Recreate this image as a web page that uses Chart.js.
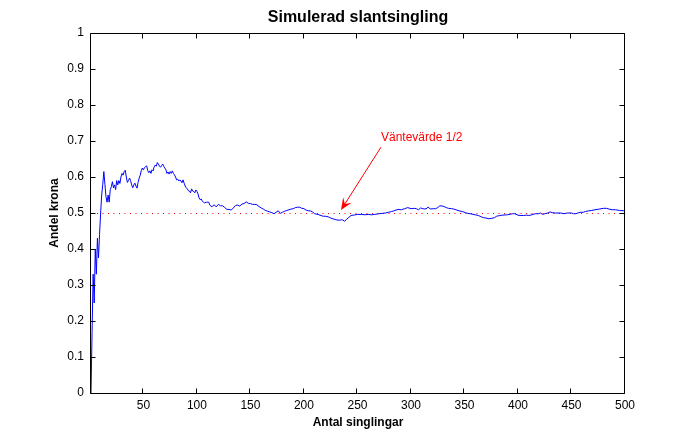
<!DOCTYPE html>
<html>
<head>
<meta charset="utf-8">
<script src="https://cdn.jsdelivr.net/npm/chart.js@4.4.1/dist/chart.umd.min.js"></script>
<style>
html,body{margin:0;padding:0;background:#fff;}
#wrap{width:691px;height:442px;position:relative;}
</style>
</head>
<body>
<div id="wrap"><canvas id="c" width="691" height="442"></canvas></div>
<script>
// ---- Data ----
const tosses = [1,2,3,4,5,6,7,8,9,10,11,12,13,14,15,16,17,18,19,20,21,22,23,24,25,26,27,28,29,30,
31,32,33,34,35,36,37,38,39,40,41,42,43,44,45,46,47,48,49,50,51,52,53,54,55,56,57,58,59,60,
61,62,63,64,65,66,67,68,69,70,71,72,73,74,75,76,77,78,79,80,81,82,83,84,85,86,87,88,89,90,
91,92,93,94,95,96,97,98,99,100,101,102,103,104,105,106,107,109,111,112,114,116,118,120,122,124,126,128,130,
132,134,136,138,140,142,144,146,148,150,152,154,156,158,160,162,164,166,168,170,172,174,176,178,180,
182,184,186,188,190,192,194,196,198,200,202,204,206,208,210,213,215,218,220,223,225,228,230,233,235,236,238,
240,242,244,246,250,254,257,260,263,266,270,273,276,279,282,285,288,291,294,297,299,301,303,305,307,309,
311,313,315,316,318,321,323,325,327,330,333,335,338,340,343,345,348,351,353,357,360,363,366,368,370,373,
375,378,380,383,385,390,395,397,400,402,405,408,410,413,416,419,421,423,425,428,430,432,435,440,443,446,
450,452,454,456,458,461,463,466,469,472,476,480,483,485,488,491,495,500];
const shareHeads = [0,0.17,0.33,0.25,0.40,0.33,0.43,0.375,0.44,0.50,0.55,0.58,0.615,0.58,0.545,0.53,0.55,0.53,0.565,0.573,
0.587,0.57,0.578,0.565,0.59,0.578,0.59,0.582,0.60,0.61,0.605,0.615,0.619,0.60,0.585,0.59,0.597,0.59,0.578,0.57,
0.578,0.583,0.575,0.569,0.585,0.597,0.605,0.618,0.625,0.62,0.626,0.629,0.631,0.618,0.612,0.617,0.61,0.62,0.617,0.628,
0.633,0.63,0.64,0.636,0.63,0.627,0.632,0.636,0.629,0.625,0.62,0.61,0.614,0.608,0.615,0.61,0.617,0.61,0.606,0.60,
0.592,0.594,0.589,0.592,0.589,0.584,0.592,0.583,0.575,0.57,0.567,0.562,0.561,0.556,0.567,0.561,0.56,0.556,0.564,0.56,
0.553,0.542,0.537,0.539,0.533,0.53,0.528,0.53,0.53,0.522,0.517,0.523,0.517,0.524,0.52,0.52,0.515,0.51,0.51,
0.508,0.514,0.521,0.522,0.519,0.525,0.526,0.531,0.527,0.526,0.524,0.524,0.523,0.518,0.514,0.511,0.507,0.505,0.503,0.501,0.498,0.502,0.506,0.499,0.502,
0.505,0.507,0.509,0.511,0.512,0.515,0.516,0.516,0.513,0.512,0.508,0.506,0.506,0.503,0.498,0.496,0.494,0.491,0.491,0.489,0.486,0.483,0.481,0.48,0.481,0.481,0.477,
0.483,0.488,0.493,0.494,0.496,0.496,0.495,0.496,0.495,0.496,0.498,0.499,0.5,0.502,0.504,0.507,0.51,0.509,0.512,0.515,0.513,0.512,0.513,0.512,0.509,0.514,
0.512,0.511,0.513,0.517,0.511,0.512,0.512,0.515,0.52,0.519,0.515,0.513,0.512,0.511,0.508,0.506,0.504,0.501,0.499,0.497,0.495,0.493,0.489,0.487,0.486,0.484,
0.485,0.487,0.491,0.493,0.494,0.495,0.498,0.498,0.494,0.493,0.493,0.494,0.493,0.495,0.498,0.498,0.5,0.496,0.498,0.5,0.503,0.501,0.5,0.5,0.498,0.5,
0.5,0.498,0.498,0.5,0.502,0.502,0.504,0.506,0.507,0.509,0.511,0.513,0.513,0.511,0.509,0.509,0.507,0.506];
const expectedX = [1, 500];
const expectedValue = [0.5, 0.5];
const xTickValues = [50,100,150,200,250,300,350,400,450,500];
const yTickValues = [0,0.1,0.2,0.3,0.4,0.5,0.6,0.7,0.8,0.9,1];
const titleText = 'Simulerad slantsingling';
const xTitle = 'Antal singlingar';
const yTitle = 'Andel krona';
const noteText = 'Väntevärde 1/2';

// ---- Layout / style (not data) ----
const FONT = '"Liberation Sans", Arial, Helvetica, sans-serif';
const notePos = { textX: 272, textY: 0.708, tailX: 272, tailY: 0.683, tipX: 234.6, tipY: 0.508 };

const crispPlugin = {
  id: 'crisp',
  beforeDatasetDraw(chart, args) {
    chart.ctx.save();
    if (args.index === 1) chart.ctx.translate(0.5, 0.5);
  },
  afterDatasetDraw(chart) { chart.ctx.restore(); }
};

const framePlugin = {
  id: 'frame',
  afterDatasetsDraw(chart) {
    const {ctx, chartArea: {left, right, top, bottom}, scales: {x, y}} = chart;
    ctx.save();
    ctx.strokeStyle = '#000';
    ctx.lineWidth = 1;
    ctx.beginPath();
    ctx.rect(left - 0.5, top + 0.5, right - left, bottom - top);
    ctx.stroke();
    const tl = 5;
    ctx.beginPath();
    xTickValues.forEach(v => {
      const px = Math.round(x.getPixelForValue(v)) - 0.5;
      ctx.moveTo(px, bottom + 0.5); ctx.lineTo(px, bottom + 0.5 - tl);
      ctx.moveTo(px, top + 0.5); ctx.lineTo(px, top + 0.5 + tl);
    });
    yTickValues.forEach(v => {
      const py = Math.round(y.getPixelForValue(v)) + 0.5;
      ctx.moveTo(left - 0.5, py); ctx.lineTo(left - 0.5 + tl, py);
      ctx.moveTo(right - 0.5, py); ctx.lineTo(right - 0.5 - tl, py);
    });
    ctx.stroke();

    // annotation
    const tx = x.getPixelForValue(notePos.tailX), ty = y.getPixelForValue(notePos.tailY);
    const hx = x.getPixelForValue(notePos.tipX), hy = y.getPixelForValue(notePos.tipY);
    ctx.strokeStyle = '#ff0000';
    ctx.fillStyle = '#ff0000';
    const dx = hx - tx, dy = hy - ty, len = Math.hypot(dx, dy);
    const ux = dx / len, uy = dy / len, nx = -uy, ny = ux;
    const L = 12, W = 5;
    ctx.beginPath();
    ctx.moveTo(tx, ty);
    ctx.lineTo(hx - ux * L * 0.6, hy - uy * L * 0.6);
    ctx.stroke();
    ctx.beginPath();
    ctx.moveTo(hx, hy);
    ctx.lineTo(hx - ux * L + nx * W, hy - uy * L + ny * W);
    ctx.lineTo(hx - ux * L * 0.6, hy - uy * L * 0.6);
    ctx.lineTo(hx - ux * L - nx * W, hy - uy * L - ny * W);
    ctx.closePath();
    ctx.fill();
    ctx.font = '12px ' + FONT;
    ctx.textAlign = 'left';
    ctx.textBaseline = 'middle';
    ctx.fillText(noteText, x.getPixelForValue(notePos.textX), y.getPixelForValue(notePos.textY));
    ctx.restore();
  }
};

new Chart(document.getElementById('c'), {
  type: 'line',
  data: {
    datasets: [
      {
        data: tosses.map((n, i) => ({x: n, y: shareHeads[i]})),
        borderColor: '#0000ff', borderWidth: 1, pointRadius: 0, tension: 0, fill: false
      },
      {
        data: expectedX.map((n, i) => ({x: n, y: expectedValue[i]})),
        borderColor: '#ff0000', borderWidth: 1, borderDash: [1, 4.5], pointRadius: 0, fill: false
      }
    ]
  },
  options: {
    responsive: false,
    animation: false,
    devicePixelRatio: 1,
    layout: { padding: { left: 0, right: 66, top: 0, bottom: 0 } },
    plugins: {
      legend: { display: false },
      tooltip: { enabled: false },
      title: {
        display: true, text: titleText, fullSize: false, color: '#000',
        font: { family: FONT, size: 16, weight: 'bold' },
        padding: { top: 8.4, bottom: 5.4 }
      }
    },
    scales: {
      x: {
        type: 'linear', min: 1, max: 500,
        afterBuildTicks: s => { s.ticks = xTickValues.map(v => ({value: v})); },
        afterFit: s => { s.height = 49; },
        grid: { display: false, drawTicks: false },
        border: { display: false },
        ticks: { color: '#000', font: { family: FONT, size: 12 }, padding: 5, maxRotation: 0, autoSkip: false },
        title: { display: true, text: xTitle, color: '#000', font: { family: FONT, size: 12, weight: 'bold' }, padding: { top: 0, bottom: 11.8 } }
      },
      y: {
        type: 'linear', min: 0, max: 1,
        afterBuildTicks: s => { s.ticks = yTickValues.map(v => ({value: v})); },
        afterFit: s => { s.width = 91; },
        grid: { display: false, drawTicks: false },
        border: { display: false },
        ticks: { color: '#000', font: { family: FONT, size: 12 }, padding: 7, autoSkip: false,
                 callback: v => String(v) },
        title: { display: true, text: yTitle, color: '#000', font: { family: FONT, size: 12, weight: 'bold' }, padding: { top: 47.8, bottom: 0 } }
      }
    }
  },
  plugins: [crispPlugin, framePlugin]
});
</script>
</body>
</html>
